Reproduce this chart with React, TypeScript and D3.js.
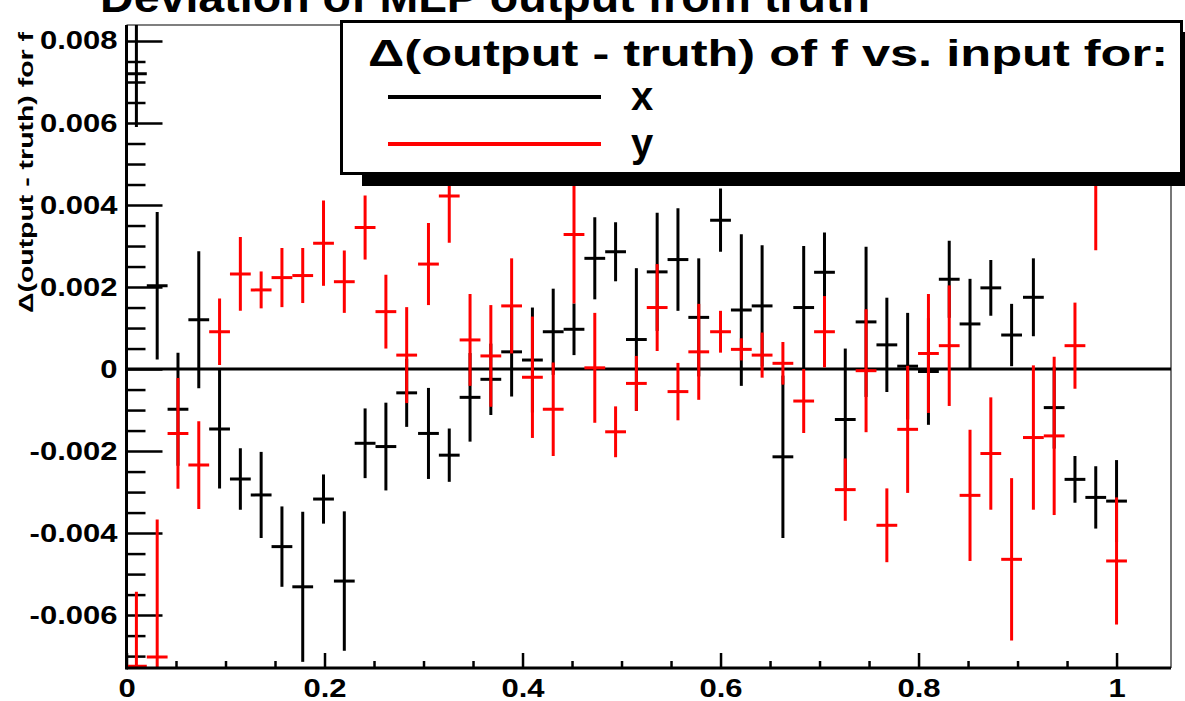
import * as d3 from "d3";
import React, { useEffect, useRef } from "react";

// bin centres of the input variable
const inputValues = [
  0.010, 0.031, 0.052, 0.073, 0.094, 0.115, 0.136, 0.157, 0.178, 0.199,
  0.220, 0.241, 0.262, 0.283, 0.305, 0.326, 0.347, 0.368, 0.389, 0.410,
  0.431, 0.452, 0.473, 0.494, 0.515, 0.536, 0.557, 0.578, 0.600, 0.621,
  0.642, 0.663, 0.684, 0.705, 0.726, 0.747, 0.768, 0.789, 0.810, 0.831,
  0.852, 0.873, 0.894, 0.916, 0.937, 0.958, 0.979, 1.000,
];

// deviation vs. input x (black)
const devX = [
  0.00720, 0.00203, -0.00098, 0.00120, -0.00146, -0.00268, -0.00307, -0.00433, -0.00531, -0.00317,
  -0.00517, -0.00181, -0.00189, -0.00058, -0.00157, -0.00210, -0.00069, -0.00025, 0.00042, 0.00022,
  0.00091, 0.00097, 0.00270, 0.00286, 0.00072, 0.00237, 0.00267, 0.00126, 0.00363, 0.00144,
  0.00154, -0.00214, 0.00150, 0.00236, -0.00123, 0.00115, 0.00059, 0.00007, -0.00006, 0.00219,
  0.00110, 0.00198, 0.00083, 0.00175, -0.00094, -0.00269, -0.00313, -0.00322,
];
const errX = [
  0.00130, 0.00180, 0.00138, 0.00167, 0.00145, 0.00075, 0.00105, 0.00098, 0.00183, 0.00060,
  0.00170, 0.00085, 0.00107, 0.00083, 0.00111, 0.00065, 0.00108, 0.00087, 0.00109, 0.00128,
  0.00105, 0.00063, 0.00100, 0.00072, 0.00174, 0.00144, 0.00125, 0.00144, 0.00077, 0.00185,
  0.00148, 0.00198, 0.00150, 0.00097, 0.00173, 0.00183, 0.00115, 0.00130, 0.00130, 0.00094,
  0.00110, 0.00068, 0.00076, 0.00095, 0.00100, 0.00057, 0.00076, 0.00100,
];

// deviation vs. input y (red)
const devY = [
  -0.00725, -0.00702, -0.00157, -0.00234, 0.00091, 0.00232, 0.00193, 0.00223, 0.00228, 0.00307,
  0.00213, 0.00345, 0.00140, 0.00034, 0.00256, 0.00422, 0.00071, 0.00032, 0.00154, -0.00020,
  -0.00098, 0.00328, 0.00003, -0.00153, -0.00035, 0.00150, -0.00055, 0.00042, 0.00091, 0.00048,
  0.00034, 0.00014, -0.00078, 0.00091, -0.00294, -0.00004, -0.00381, -0.00147, 0.00038, 0.00057,
  -0.00308, -0.00206, -0.00464, -0.00167, -0.00163, 0.00057, 0.00470, -0.00468,
];
const errY = [
  0.00182, 0.00335, 0.00135, 0.00107, 0.00081, 0.00090, 0.00045, 0.00072, 0.00067, 0.00104,
  0.00076, 0.00078, 0.00090, 0.00117, 0.00100, 0.00114, 0.00112, 0.00124, 0.00116, 0.00148,
  0.00114, 0.00168, 0.00134, 0.00062, 0.00067, 0.00106, 0.00070, 0.00117, 0.00051, 0.00027,
  0.00055, 0.00052, 0.00078, 0.00087, 0.00076, 0.00150, 0.00090, 0.00155, 0.00145, 0.00147,
  0.00160, 0.00137, 0.00198, 0.00176, 0.00193, 0.00105, 0.00180, 0.00155,
];

const xTicks = [0, 0.2, 0.4, 0.6, 0.8, 1];
const yTicks = [-0.006, -0.004, -0.002, 0, 0.002, 0.004, 0.006, 0.008];
const seriesNames = ["x", "y"];
const seriesColors = ["#000000", "#ff0000"];
const titleText = "Deviation of MLP output from truth";
const yLabel = "\u0394(output - truth) for f";
const legendTitle = "\u0394(output - truth) of f vs. input for:";

const FONT = "'Liberation Sans', Arial, Helvetica, sans-serif";

const App = () => {
  const svgRef = useRef(null);

  const width = 1185;
  const height = 701;
  const left = 126.5;
  const right = 1171;
  const top = 25;
  const bottom = 668;
  const halfBin = 0.0105;

  useEffect(() => {
    const svg = d3.select(svgRef.current);
    svg.selectAll("*").remove();

    const xScale = d3.scaleLinear().domain([0, 1.055]).range([left, right]);
    const yScale = d3.scaleLinear().domain([-0.00729, 0.00839]).range([bottom, top]);

    // stretch text horizontally like the original raster
    const stretch = (sel, k) => {
      sel.each(function () {
        const len = this.getComputedTextLength();
        d3.select(this).attr("textLength", len * k).attr("lengthAdjust", "spacingAndGlyphs");
      });
    };

    svg.append("rect").attr("width", width).attr("height", height).attr("fill", "#fff");

    // title (mostly cut off at top)
    svg.append("text")
      .attr("x", 100).attr("y", 12)
      .attr("font-family", FONT).attr("font-weight", "bold").attr("font-size", 42)
      .attr("textLength", 770).attr("lengthAdjust", "spacingAndGlyphs")
      .text(titleText);

    // frame top/right
    svg.append("line").attr("x1", left).attr("x2", right).attr("y1", top).attr("y2", top)
      .attr("stroke", "#555").attr("stroke-width", 1.5);
    svg.append("line").attr("x1", right).attr("x2", right).attr("y1", top).attr("y2", bottom)
      .attr("stroke", "#777").attr("stroke-width", 2);

    // y axis
    const yMinor = d3.range(-14, 17).map((d) => d * 0.0005).filter((d) => yTicks.indexOf(+d.toFixed(4)) < 0);
    const yMinorAxis = d3.axisLeft(yScale).tickValues(yMinor).tickSize(-19).tickFormat(() => "");
    const yMinorG = svg.append("g").attr("transform", `translate(${left},0)`).call(yMinorAxis);
    yMinorG.select(".domain").remove();
    yMinorG.selectAll("line").attr("stroke", "#000").attr("stroke-width", 2.5);

    const yAxis = d3.axisLeft(yScale).tickValues(yTicks).tickSize(-36).tickPadding(9)
      .tickFormat((d) => (d === 0 ? "0" : d.toFixed(3)));
    const yAxisG = svg.append("g").attr("transform", `translate(${left},0)`).call(yAxis);
    yAxisG.select(".domain").remove();
    yAxisG.selectAll("line").attr("stroke", "#000").attr("stroke-width", 2.5);
    yAxisG.selectAll("text")
      .attr("font-family", FONT).attr("font-weight", "bold").attr("font-size", 25).attr("fill", "#000");
    stretch(yAxisG.selectAll("text"), 1.24);

    // x axis
    const xMinor = d3.range(1, 20).map((d) => d * 0.05).filter((d, i) => (i + 1) % 4 !== 0);
    const xMinorAxis = d3.axisBottom(xScale).tickValues(xMinor).tickSize(-7).tickFormat(() => "");
    const xMinorG = svg.append("g").attr("transform", `translate(0,${bottom})`).call(xMinorAxis);
    xMinorG.select(".domain").remove();
    xMinorG.selectAll("line").attr("stroke", "#000").attr("stroke-width", 2.5);

    const xAxis = d3.axisBottom(xScale).tickValues(xTicks).tickSize(-15).tickPadding(11)
      .tickFormat((d) => String(d));
    const xAxisG = svg.append("g").attr("transform", `translate(0,${bottom})`).call(xAxis);
    xAxisG.select(".domain").remove();
    xAxisG.selectAll("line").attr("stroke", "#000").attr("stroke-width", 2.5);
    xAxisG.selectAll("text")
      .attr("font-family", FONT).attr("font-weight", "bold").attr("font-size", 25).attr("fill", "#000");
    stretch(xAxisG.selectAll("text"), 1.24);

    // y axis title
    svg.append("text")
      .attr("transform", "translate(33,313) rotate(-90)")
      .attr("font-family", FONT).attr("font-weight", "bold").attr("font-size", 21)
      .attr("textLength", 281).attr("lengthAdjust", "spacingAndGlyphs")
      .text(yLabel);

    // clip to frame
    svg.append("clipPath").attr("id", "frameClip")
      .append("rect").attr("x", left).attr("y", top).attr("width", right - left).attr("height", bottom - top);

    const plot = svg.append("g").attr("clip-path", "url(#frameClip)");

    // zero line
    plot.append("line").attr("x1", left).attr("x2", right)
      .attr("y1", yScale(0)).attr("y2", yScale(0))
      .attr("stroke", "#000").attr("stroke-width", 3);

    const series = [
      { vals: devX, errs: errX, color: seriesColors[0] },
      { vals: devY, errs: errY, color: seriesColors[1] },
    ];

    series.forEach((s) => {
      const g = plot.append("g");
      const pts = inputValues.map((x, i) => ({ x, v: s.vals[i], e: s.errs[i] }));
      g.selectAll("line.v").data(pts).enter().append("line")
        .attr("class", "v")
        .attr("x1", (d) => xScale(d.x)).attr("x2", (d) => xScale(d.x))
        .attr("y1", (d) => yScale(d.v + d.e)).attr("y2", (d) => yScale(d.v - d.e))
        .attr("stroke", s.color).attr("stroke-width", 3);
      g.selectAll("line.h").data(pts).enter().append("line")
        .attr("class", "h")
        .attr("x1", (d) => xScale(d.x - halfBin)).attr("x2", (d) => xScale(d.x + halfBin))
        .attr("y1", (d) => yScale(d.v)).attr("y2", (d) => yScale(d.v))
        .attr("stroke", s.color).attr("stroke-width", 3);
    });

    // axis lines
    svg.append("line").attr("x1", left).attr("x2", left).attr("y1", top).attr("y2", bottom + 1.5)
      .attr("stroke", "#000").attr("stroke-width", 3);
    svg.append("line").attr("x1", left).attr("x2", right).attr("y1", bottom).attr("y2", bottom)
      .attr("stroke", "#000").attr("stroke-width", 3);

    // legend
    const lg = svg.append("g");
    lg.append("rect").attr("x", 362).attr("y", 32).attr("width", 843).attr("height", 154).attr("fill", "#000");
    lg.append("rect").attr("x", 341.5).attr("y", 21.5).attr("width", 840).attr("height", 152)
      .attr("fill", "#fff").attr("stroke", "#000").attr("stroke-width", 3);
    lg.append("text")
      .attr("x", 368).attr("y", 66)
      .attr("font-family", FONT).attr("font-weight", "bold").attr("font-size", 37)
      .attr("textLength", 800).attr("lengthAdjust", "spacingAndGlyphs")
      .text(legendTitle);
    const rows = [97, 144];
    seriesNames.forEach((name, i) => {
      lg.append("line").attr("x1", 388).attr("x2", 601).attr("y1", rows[i]).attr("y2", rows[i])
        .attr("stroke", seriesColors[i]).attr("stroke-width", 4);
      lg.append("text")
        .attr("x", 631).attr("y", rows[i] + 13)
        .attr("font-family", FONT).attr("font-weight", "bold").attr("font-size", 40)
        .text(name);
    });
  }, []);

  return (
    <svg
      ref={svgRef}
      width={width}
      height={height}
      style={{ position: "absolute", left: 0, top: 0, display: "block" }}
    />
  );
};

export default App;
